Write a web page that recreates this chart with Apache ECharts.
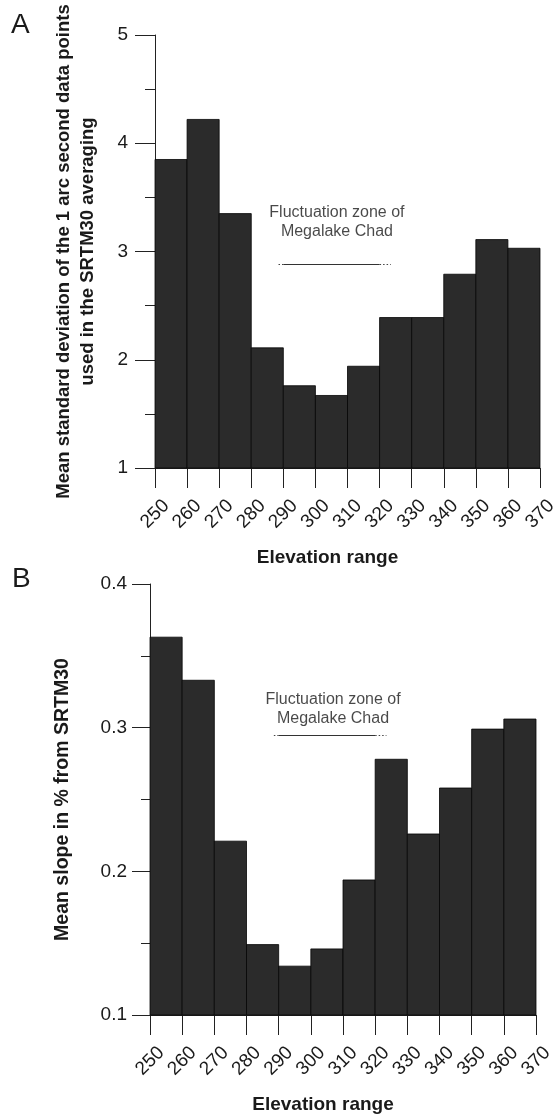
<!DOCTYPE html>
<html>
<head>
<meta charset="utf-8">
<script src="https://cdn.jsdelivr.net/npm/echarts@6/dist/echarts.min.js"></script>
<style>
  html, body { margin: 0; padding: 0; background: #fff; }
  #chart { width: 556px; height: 1115px; }
</style>
</head>
<body>
<div id="chart"></div>
<script>
// elevation bins (lower edge, upper edge) and tick labels
const binLow = [250, 260, 270, 280, 290, 300, 310, 320, 330, 340, 350, 360]
const binHigh = [260, 270, 280, 290, 300, 310, 320, 330, 340, 350, 360, 370]
const elevTicks = [250, 260, 270, 280, 290, 300, 310, 320, 330, 340, 350, 360, 370]

// panel A: mean std deviation of 1" points, panel B: mean slope (%)
const stdDevA = [3.85, 4.22, 3.35, 2.11, 1.76, 1.67, 1.94, 2.39, 2.39, 2.79, 3.11, 3.03]
const slopeB = [0.363, 0.333, 0.221, 0.149, 0.134, 0.146, 0.194, 0.278, 0.226, 0.258, 0.299, 0.306]

// fluctuation zone of Megalake Chad (elevation), dotted uncertain ends
const zoneSolid = [290, 320]
const zoneDotted = [288.5, 323.5]
const zoneLineA = 2.886
const zoneLineB = 0.295
const zoneLabelA = [306.7, 3.275]
const zoneLabelB = [306.9, 0.3128]
const zoneText = 'Fluctuation zone of\nMegalake Chad'

const font = "'Liberation Sans', Arial, Helvetica, sans-serif"
const ink = '#1a1a1a'

function binData (values) {
  return values.map((v, i) => [binLow[i], binHigh[i], v])
}

function histSeries (idx, values, yMin) {
  return {
    type: 'custom',
    xAxisIndex: idx,
    yAxisIndex: idx,
    encode: { x: [0, 1], y: 2 },
    data: binData(values),
    renderItem (params, api) {
      const top = api.coord([api.value(0), api.value(2)])
      const bottom = api.coord([api.value(1), yMin])
      return {
        type: 'rect',
        shape: { x: top[0], y: top[1], width: bottom[0] - top[0], height: bottom[1] - top[1] },
        style: { fill: '#2b2b2b', stroke: '#050505', lineWidth: 0.8 }
      }
    }
  }
}

function zoneSeries (idx, lineY, labelPos) {
  const solid = { color: '#333', width: 1.2, type: 'solid' }
  const dots = { color: '#444', width: 1.2, type: [1.5, 2] }
  return {
    type: 'scatter',
    xAxisIndex: idx,
    yAxisIndex: idx,
    symbolSize: 1,
    itemStyle: { color: 'rgba(0,0,0,0)' },
    silent: true,
    data: [labelPos],
    label: {
      show: true,
      position: 'inside',
      formatter: zoneText,
      fontFamily: font,
      fontSize: 16,
      lineHeight: 19,
      color: ink,
      align: 'center',
      verticalAlign: 'middle'
    },
    markLine: {
      silent: true,
      symbol: 'none',
      label: { show: false },
      data: [
        [{ coord: [zoneDotted[0], lineY], lineStyle: dots }, { coord: [zoneSolid[0], lineY] }],
        [{ coord: [zoneSolid[0], lineY], lineStyle: solid }, { coord: [zoneSolid[1], lineY] }],
        [{ coord: [zoneSolid[1], lineY], lineStyle: dots }, { coord: [zoneDotted[1], lineY] }]
      ]
    }
  }
}

function xAxis (idx) {
  return {
    type: 'value',
    gridIndex: idx,
    min: elevTicks[0],
    max: elevTicks[elevTicks.length - 1],
    interval: 10,
    name: 'Elevation range',
    nameLocation: 'middle',
    nameGap: 80,
    nameTextStyle: { fontFamily: font, fontSize: 19, fontWeight: 'bold', color: ink, padding: [0, 40, 0, 0] },
    axisLine: { show: true, lineStyle: { color: '#222', width: 1 } },
    axisTick: { show: true, length: 20, lineStyle: { color: '#222' } },
    axisLabel: {
      rotate: 45,
      margin: 46,
      align: 'center',
      verticalAlign: 'middle',
      fontFamily: font,
      fontSize: 19,
      color: ink,
      showMinLabel: true,
      showMaxLabel: true
    },
    splitLine: { show: false }
  }
}

function yAxis (idx, min, max, step, name, gap, nameSize, tickLen, margin) {
  return {
    type: 'value',
    gridIndex: idx,
    min,
    max,
    interval: step,
    name,
    nameLocation: 'middle',
    nameGap: gap,
    nameTextStyle: { fontFamily: font, fontSize: nameSize, fontWeight: 'bold', color: ink, lineHeight: 24, align: 'center' },
    axisLine: { show: true, lineStyle: { color: '#222', width: 1 } },
    axisTick: { show: true, length: tickLen, lineStyle: { color: '#222' } },
    minorTick: { show: true, splitNumber: 2, length: tickLen / 2, lineStyle: { color: '#222' } },
    axisLabel: {
      margin,
      fontFamily: font,
      fontSize: 19,
      color: ink,
      formatter: v => (step < 1 ? v.toFixed(1) : String(v))
    },
    splitLine: { show: false },
    minorSplitLine: { show: false }
  }
}

const chart = echarts.init(document.getElementById('chart'), null, { renderer: 'canvas' })
chart.setOption({
  backgroundColor: '#fff',
  animation: false,
  title: [
    { text: 'A', left: 6, top: 6, textStyle: { fontFamily: font, fontSize: 28, fontWeight: 'normal', color: ink } },
    { text: 'B', left: 7, top: 560, textStyle: { fontFamily: font, fontSize: 28, fontWeight: 'normal', color: ink } }
  ],
  grid: [
    { left: 155, top: 35, width: 385, height: 433, outerBoundsMode: 'none', containLabel: false },
    { left: 150, top: 584, width: 386, height: 431, outerBoundsMode: 'none', containLabel: false }
  ],
  xAxis: [xAxis(0), xAxis(1)],
  yAxis: [
    yAxis(0, 1, 5, 1, 'Mean standard deviation of the 1 arc second data points\nused in the SRTM30 averaging', 55, 18.5, 20, 27),
    yAxis(1, 0.1, 0.4, 0.1, 'Mean slope in % from SRTM30', 75, 19.5, 18, 23)
  ],
  series: [
    histSeries(0, stdDevA, 1),
    histSeries(1, slopeB, 0.1),
    zoneSeries(0, zoneLineA, zoneLabelA),
    zoneSeries(1, zoneLineB, zoneLabelB)
  ]
})
</script>
</body>
</html>
